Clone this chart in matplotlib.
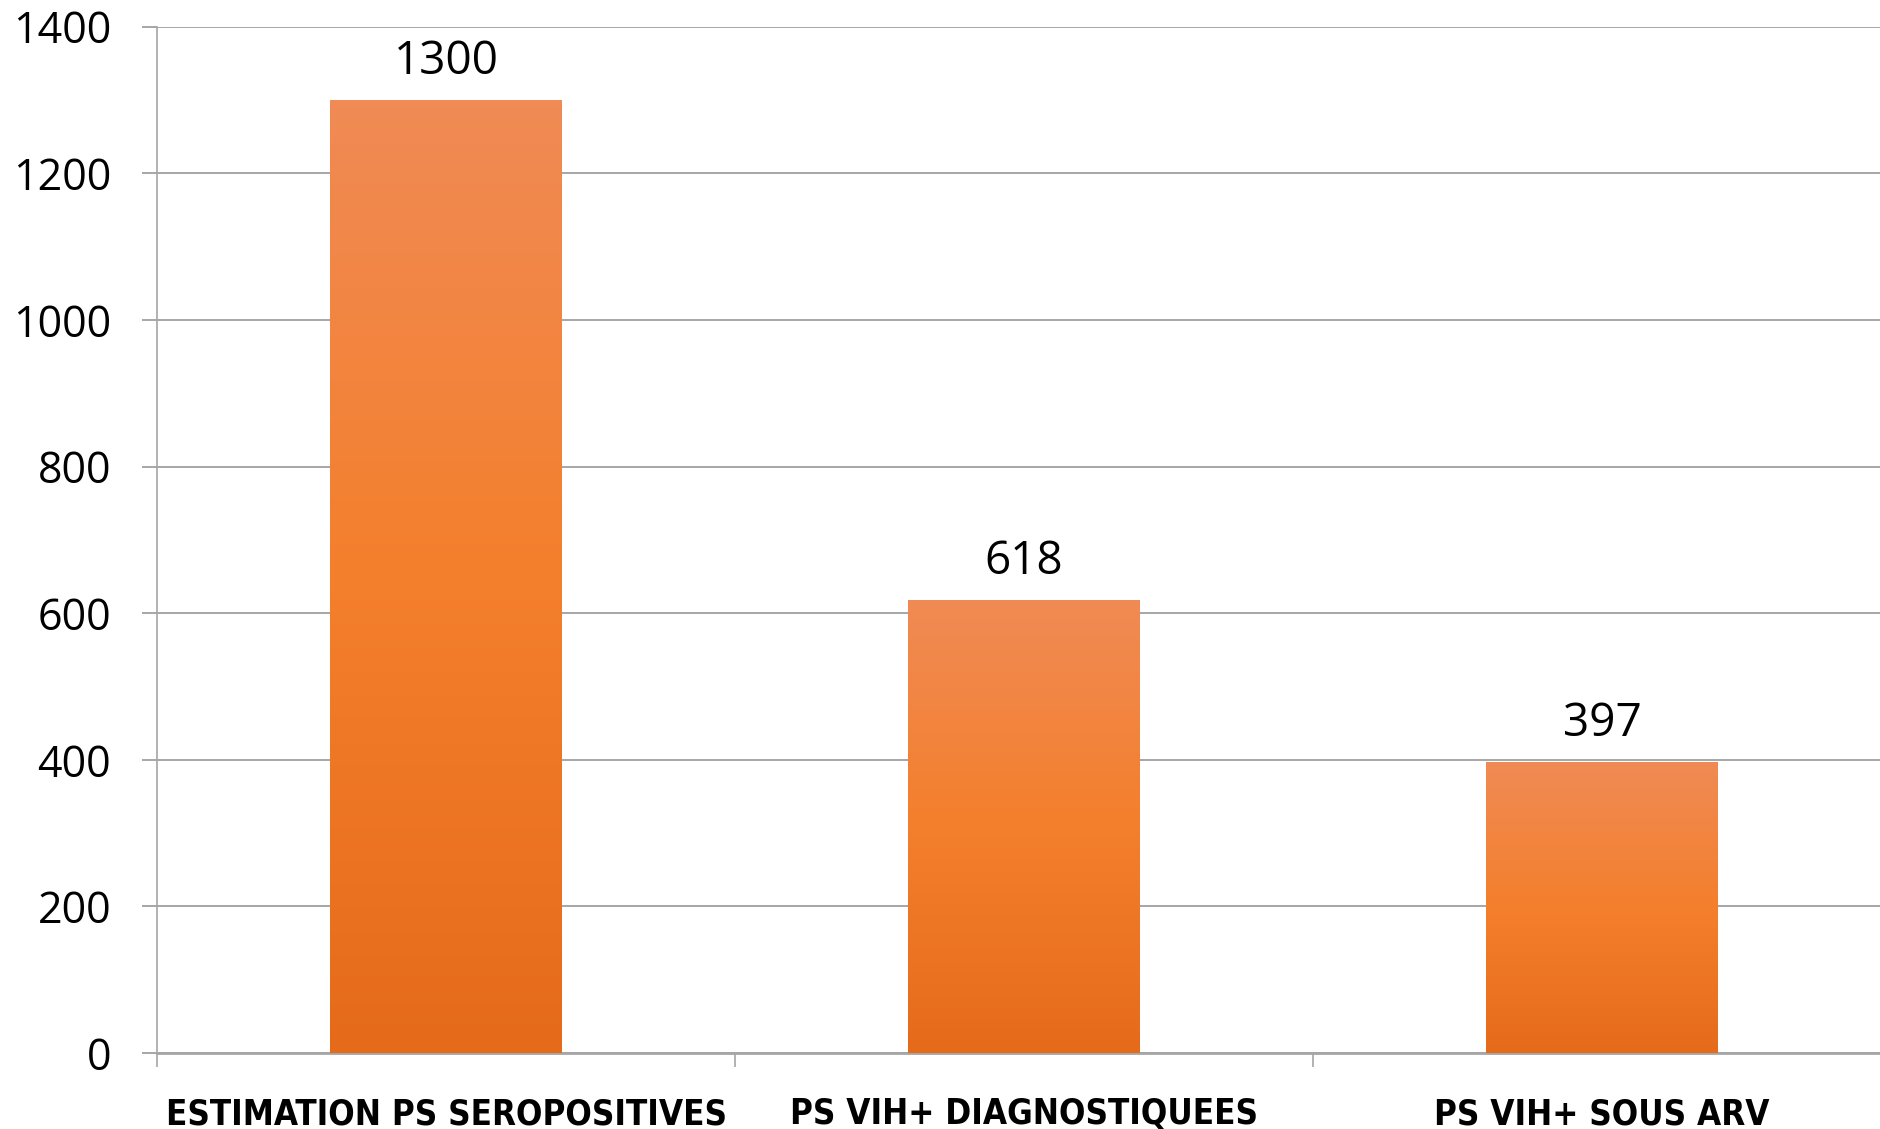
import matplotlib
matplotlib.use("Agg")
import matplotlib.pyplot as plt
import numpy as np
from matplotlib.colors import LinearSegmentedColormap

categories = ["ESTIMATION PS SEROPOSITIVES", "PS VIH+ DIAGNOSTIQUEES", "PS VIH+ SOUS ARV"]
values = [1300, 618, 397]
yticks = [0, 200, 400, 600, 800, 1000, 1200, 1400]

W, H = 1880, 1129
fig = plt.figure(figsize=(W / 100, H / 100), dpi=100)
left, right, bottom, top = 157, 1891, 1053, 26.7
ax = fig.add_axes([left / W, (H - bottom) / H, (right - left) / W, (bottom - top) / H])

x = np.arange(len(categories))
bars = ax.bar(x, values, width=0.40, color="none", edgecolor="none", zorder=3)

cmap = LinearSegmentedColormap.from_list(
    "g", [(0.0, "#E56B1A"), (0.5, "#F47F2C"), (1.0, "#F08B55")])
grad = np.linspace(0, 1, 256).reshape(-1, 1)
for rect in bars:
    x0, w, h = rect.get_x(), rect.get_width(), rect.get_height()
    im = ax.imshow(grad, cmap=cmap, origin="lower", aspect="auto",
                   extent=[x0, x0 + w, 0, h], zorder=3, interpolation="bicubic")
    im.set_clip_path(rect)

for xi, v in zip(x, values):
    ax.annotate(f"{v}", (xi, v), xytext=(0, 11), textcoords="offset points",
                ha="center", va="bottom", fontsize=33, family="Open Sans", color="black")

ax.set_xlim(-0.5, 2.5)
ax.set_ylim(0, 1400)
ax.set_yticks(yticks)
ax.set_yticklabels([str(t) for t in yticks], fontsize=31, family="Open Sans")
ax.yaxis.grid(True, color="#A6A6A6", linewidth=1.4, zorder=0)
ax.set_axisbelow(True)

ax.set_xticks([-0.5, 0.5, 1.5, 2.5])
ax.set_xticklabels([])
ax.set_xticks(x, minor=True)
ax.set_xticklabels(categories, minor=True, fontsize=25, fontweight="bold",
                   family="DejaVu Sans", fontstretch="condensed")
ax.tick_params(axis="x", which="major", length=10, width=1.2, color="#A6A6A6", direction="out")
ax.tick_params(axis="x", which="minor", length=0, pad=32)
ax.tick_params(axis="y", length=11, width=1.4, color="#A6A6A6", pad=22)

for s in ["top", "right"]:
    ax.spines[s].set_visible(False)
ax.spines["left"].set_color("#A6A6A6")
ax.spines["left"].set_linewidth(1.2)
ax.spines["bottom"].set_color("#A6A6A6")
ax.spines["bottom"].set_linewidth(2.0)

fig.savefig("out.png", dpi=100)
